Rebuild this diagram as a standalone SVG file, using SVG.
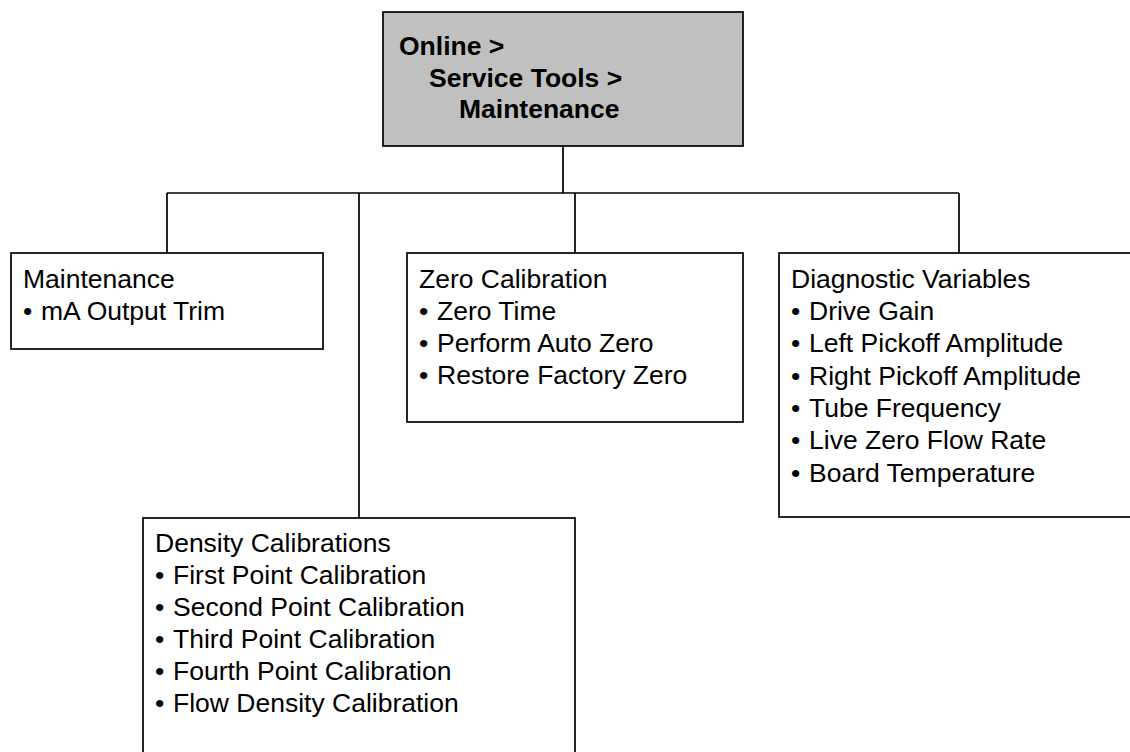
<svg xmlns="http://www.w3.org/2000/svg" width="1130" height="752" viewBox="0 0 1130 752">
<style>
.box{fill:#fff;stroke:#000;stroke-width:1.7}
.root{fill:#c0c0c0;stroke:#000;stroke-width:1.7}
.t{font-family:"Liberation Sans",Arial,sans-serif;font-size:26.5px;fill:#000}
.b{font-weight:bold}
.c{fill:none;stroke:#000;stroke-width:1.7}
</style>
<rect width="1130" height="752" fill="#fff"/>
<g id="connectors">
<path class="c" d="M563,146V193M167,193H959M167,193V253M359,193V518M575,193V253M959,193V253"/>
</g>
<g id="root">
<rect class="root" x="383" y="12" width="360" height="134"/>
<text class="t b" x="399" y="55">Online &gt;</text>
<text class="t b" x="429" y="87">Service Tools &gt;</text>
<text class="t b" x="459" y="118">Maintenance</text>
</g>
<g id="maintenance">
<rect class="box" x="11" y="253" width="312" height="96"/>
<text class="t" x="23" y="288">Maintenance</text>
<text class="t" y="320"><tspan x="23">•</tspan><tspan x="41">mA Output Trim</tspan></text>
</g>
<g id="zero">
<rect class="box" x="407" y="253" width="336" height="169"/>
<text class="t" x="419" y="288">Zero Calibration</text>
<text class="t" y="320"><tspan x="419">•</tspan><tspan x="437">Zero Time</tspan></text>
<text class="t" y="352"><tspan x="419">•</tspan><tspan x="437">Perform Auto Zero</tspan></text>
<text class="t" y="384"><tspan x="419">•</tspan><tspan x="437">Restore Factory Zero</tspan></text>
</g>
<g id="diagnostic">
<rect class="box" x="779" y="253" width="360" height="264"/>
<text class="t" x="791" y="288">Diagnostic Variables</text>
<text class="t" y="320"><tspan x="791">•</tspan><tspan x="809">Drive Gain</tspan></text>
<text class="t" y="352"><tspan x="791">•</tspan><tspan x="809">Left Pickoff Amplitude</tspan></text>
<text class="t" y="385"><tspan x="791">•</tspan><tspan x="809">Right Pickoff Amplitude</tspan></text>
<text class="t" y="417"><tspan x="791">•</tspan><tspan x="809">Tube Frequency</tspan></text>
<text class="t" y="449"><tspan x="791">•</tspan><tspan x="809">Live Zero Flow Rate</tspan></text>
<text class="t" y="482"><tspan x="791">•</tspan><tspan x="809">Board Temperature</tspan></text>
</g>
<g id="density">
<rect class="box" x="143" y="518" width="432" height="250"/>
<text class="t" x="155" y="552">Density Calibrations</text>
<text class="t" y="584"><tspan x="155">•</tspan><tspan x="173">First Point Calibration</tspan></text>
<text class="t" y="616"><tspan x="155">•</tspan><tspan x="173">Second Point Calibration</tspan></text>
<text class="t" y="648"><tspan x="155">•</tspan><tspan x="173">Third Point Calibration</tspan></text>
<text class="t" y="680"><tspan x="155">•</tspan><tspan x="173">Fourth Point Calibration</tspan></text>
<text class="t" y="712"><tspan x="155">•</tspan><tspan x="173">Flow Density Calibration</tspan></text>
</g>
</svg>
